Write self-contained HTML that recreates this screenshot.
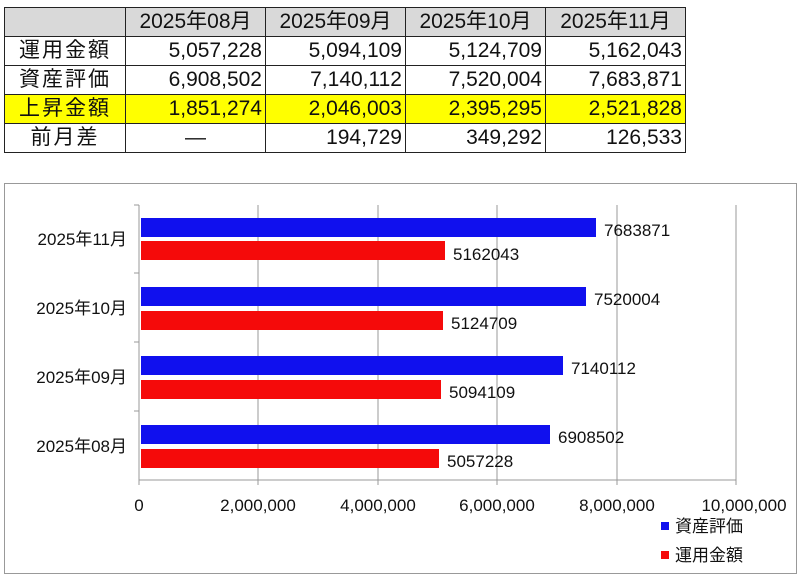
<!DOCTYPE html>
<html><head><meta charset="utf-8"><style>
body{margin:0;width:806px;height:581px;background:#fff;position:relative;overflow:hidden;font-family:"Liberation Sans","Noto Sans CJK JP",sans-serif}
table{position:absolute;left:4px;top:7px;border-collapse:collapse;font-size:21px;color:#111}
td{border:1.5px solid #222;height:28px;padding:0 3px;text-align:right;line-height:28px}
td:first-child{text-align:center;width:114px;letter-spacing:2px}
td.c{width:133px}
tr.h td{background:#d9d9d9;text-align:center}
tr.y td{background:#ffff00}
.t{font-family:"Liberation Sans","Noto Sans CJK JP",sans-serif;font-size:17px;fill:#111}
</style></head><body>
<table>
<tr class="h"><td></td><td class="c">2025年08月</td><td class="c">2025年09月</td><td class="c">2025年10月</td><td class="c">2025年11月</td></tr>
<tr><td>運用金額</td><td>5,057,228</td><td>5,094,109</td><td>5,124,709</td><td>5,162,043</td></tr>
<tr><td>資産評価</td><td>6,908,502</td><td>7,140,112</td><td>7,520,004</td><td>7,683,871</td></tr>
<tr class="y"><td>上昇金額</td><td>1,851,274</td><td>2,046,003</td><td>2,395,295</td><td>2,521,828</td></tr>
<tr><td>前月差</td><td style="text-align:center">—</td><td>194,729</td><td>349,292</td><td>126,533</td></tr>
</table>
<svg width="806" height="581" style="position:absolute;left:0;top:0">
<rect x="4.5" y="183.5" width="792" height="390" fill="none" stroke="#999"/>
<g stroke="#999" stroke-width="1">
<line x1="258" y1="205" x2="258" y2="480"/><line x1="378" y1="205" x2="378" y2="480"/><line x1="497" y1="205" x2="497" y2="480"/><line x1="617" y1="205" x2="617" y2="480"/><line x1="736" y1="205" x2="736" y2="480"/>
<line x1="139" y1="205" x2="139" y2="480"/><line x1="139" y1="480" x2="736" y2="480"/>
<line x1="134" y1="273" x2="139" y2="273"/><line x1="134" y1="342" x2="139" y2="342"/><line x1="134" y1="411" x2="139" y2="411"/><line x1="134" y1="205" x2="139" y2="205"/>
<line x1="139" y1="480" x2="139" y2="485"/><line x1="258" y1="480" x2="258" y2="485"/><line x1="378" y1="480" x2="378" y2="485"/><line x1="497" y1="480" x2="497" y2="485"/><line x1="617" y1="480" x2="617" y2="485"/><line x1="736" y1="480" x2="736" y2="485"/>
</g>
<g fill="#1010ee">
<rect x="141" y="218" width="455" height="19"/><rect x="141" y="287" width="445" height="19"/><rect x="141" y="356" width="422" height="19"/><rect x="141" y="425" width="409" height="19"/>
<rect x="661" y="522" width="8" height="8"/></g>
<g fill="#f50a0a">
<rect x="141" y="241" width="304" height="19"/><rect x="141" y="311" width="302" height="19"/><rect x="141" y="380" width="300" height="19"/><rect x="141" y="449" width="298" height="19"/>
<rect x="661" y="551" width="8" height="8"/></g>
<g class="t">
<text x="604" y="236">7683871</text><text x="453" y="260">5162043</text>
<text x="594" y="305">7520004</text><text x="451" y="329">5124709</text>
<text x="571" y="374">7140112</text><text x="449" y="398">5094109</text>
<text x="558" y="443">6908502</text><text x="447" y="467">5057228</text>
<g text-anchor="end"><text x="127" y="245">2025年11月</text><text x="127" y="314">2025年10月</text><text x="127" y="383">2025年09月</text><text x="127" y="452">2025年08月</text></g>
<g text-anchor="middle"><text x="139" y="511">0</text><text x="258" y="511">2,000,000</text><text x="378" y="511">4,000,000</text><text x="497" y="511">6,000,000</text><text x="617" y="511">8,000,000</text><text x="744" y="511">10,000,000</text></g>
<text x="675" y="532">資産評価</text><text x="675" y="561">運用金額</text>
</g>
</svg>
</body></html>
